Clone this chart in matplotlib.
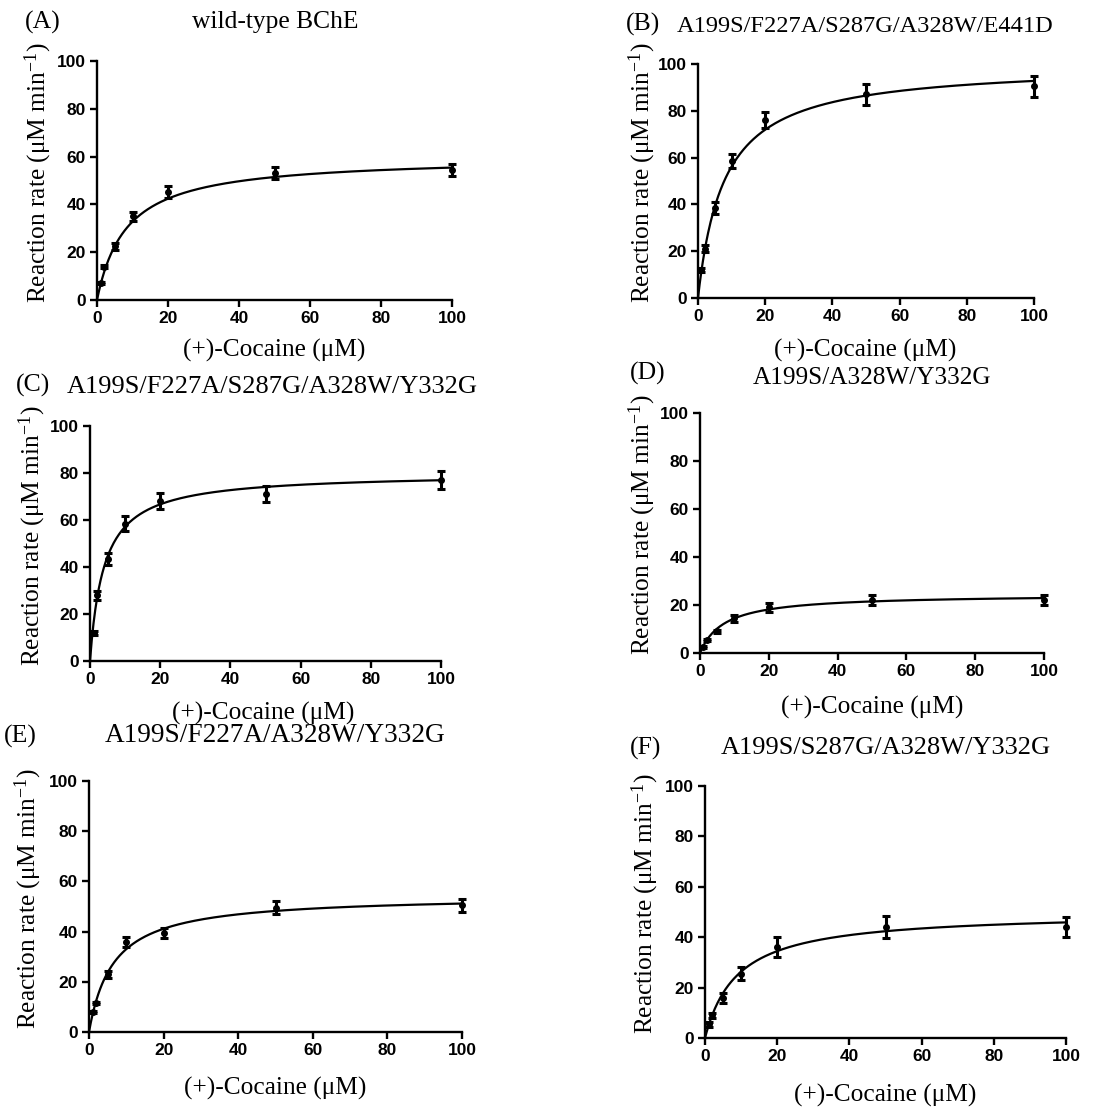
import matplotlib
matplotlib.use("Agg")
import matplotlib.pyplot as plt
import numpy as np

# cocaine concentrations (uM)
conc = [1, 2, 5, 10, 20, 50, 100]

panel_tags = ["(A)", "(B)", "(C)", "(D)", "(E)", "(F)"]
titles = ["wild-type BChE",
          "A199S/F227A/S287G/A328W/E441D",
          "A199S/F227A/S287G/A328W/Y332G",
          "A199S/A328W/Y332G",
          "A199S/F227A/A328W/Y332G",
          "A199S/S287G/A328W/Y332G"]

# mean rates and error (uM/min)
rate_a = [7, 14, 22.5, 35, 45, 53, 54.5]
err_a = [0.5, 0.5, 1.5, 2, 2.5, 2.5, 2.5]
rate_b = [12, 21, 38.5, 58.5, 76, 87, 90.5]
err_b = [0.8, 1.5, 2.5, 3, 3.5, 4.5, 4.5]
rate_c = [12, 28, 43.5, 58.5, 68, 71, 77]
err_c = [0.8, 2, 2.5, 3, 3.5, 3.5, 4]
rate_d = [2.5, 5.5, 9, 14.5, 19, 22, 22]
err_d = [0.5, 0.5, 0.5, 1.5, 2, 2, 2]
rate_e = [8, 11.5, 23, 36, 39.5, 49.5, 50.5]
err_e = [0.5, 0.5, 1.5, 2, 2, 2.5, 2.5]
rate_f = [5.5, 9, 16, 25.5, 36, 44, 44]
err_f = [1, 1, 2, 2.5, 4, 4.5, 4]

# Michaelis-Menten fit parameters
vmax = [60, 100, 80, 24.5, 54.5, 50]
km = [8.3, 7.8, 4, 7, 6.5, 9]

rates = [rate_a, rate_b, rate_c, rate_d, rate_e, rate_f]
errs = [err_a, err_b, err_c, err_d, err_e, err_f]

serif = "Liberation Serif"
sans = "Liberation Sans"
plt.rcParams["mathtext.fontset"] = "custom"
plt.rcParams["mathtext.rm"] = serif
plt.rcParams["mathtext.it"] = serif + ":italic"
plt.rcParams["mathtext.default"] = "rm"

W, H = 1101, 1110
fig = plt.figure(figsize=(W / 100, H / 100), dpi=100)

# axes boxes in pixels: left, top, right, bottom
boxes = [(97, 61, 452, 300), (698, 64, 1034, 298),
         (90, 426, 441, 661), (700, 413, 1044, 653),
         (89, 781, 462, 1032), (705, 786, 1066, 1038)]
# tag position, title position, xlabel position, ylabel x (pixels)
tag_pos = [(25, 22), (626, 24), (16, 385), (630, 373), (4, 736), (630, 748)]
title_pos = [(275, 22), (865, 26), (272, 387), (872, 378), (275, 736), (886, 748)]
title_size = [18.4, 17.6, 19, 18.2, 19.6, 19]
xlab_pos = [(274, 350), (865, 350), (263, 713), (872, 707), (275, 1088), (885, 1095)]
ylab_x = [38, 642, 32, 642, 28, 645]


def fx(px):
    return px / W


def fy(py):
    return 1 - py / H


xs = np.linspace(0, 100, 400)
for i in range(6):
    l, t, r, b = boxes[i]
    ax = fig.add_axes([fx(l), fy(b), (r - l) / W, (b - t) / H])
    ax.plot(xs, vmax[i] * xs / (km[i] + xs), color="black", lw=1.6,
            clip_on=False)
    ax.errorbar(conc, rates[i], yerr=errs[i], fmt="o", color="black",
                ms=4, elinewidth=2.2, capsize=3, capthick=2.2,
                clip_on=False, zorder=3)
    ax.set_xlim(0, 100)
    ax.set_ylim(0, 100)
    ax.set_xticks([0, 20, 40, 60, 80, 100])
    ax.set_yticks([0, 20, 40, 60, 80, 100])
    ax.spines["top"].set_visible(False)
    ax.spines["right"].set_visible(False)
    for s in ["left", "bottom"]:
        ax.spines[s].set_linewidth(1.7)
    ax.tick_params(direction="out", length=5, width=1.7, pad=3)
    for lab in ax.get_xticklabels() + ax.get_yticklabels():
        lab.set_fontfamily(sans)
        lab.set_fontweight("bold")
        lab.set_fontsize(12.5)

    fig.text(fx(tag_pos[i][0]), fy(tag_pos[i][1]), panel_tags[i],
             family=serif, fontsize=18.5, ha="left", va="center")
    fig.text(fx(title_pos[i][0]), fy(title_pos[i][1]), titles[i],
             family=serif, fontsize=title_size[i], ha="center", va="center")
    fig.text(fx(xlab_pos[i][0]), fy(xlab_pos[i][1]), "(+)-Cocaine (\u03bcM)",
             family=serif, fontsize=18.3, ha="center", va="center")
    fig.text(fx(ylab_x[i]), fy((t + b) / 2 - 8),
             "Reaction rate (\u03bcM min$^{-1}$)",
             family=serif, fontsize=18.3, ha="center", va="center",
             rotation=90)

fig.savefig("out.png", dpi=100)
